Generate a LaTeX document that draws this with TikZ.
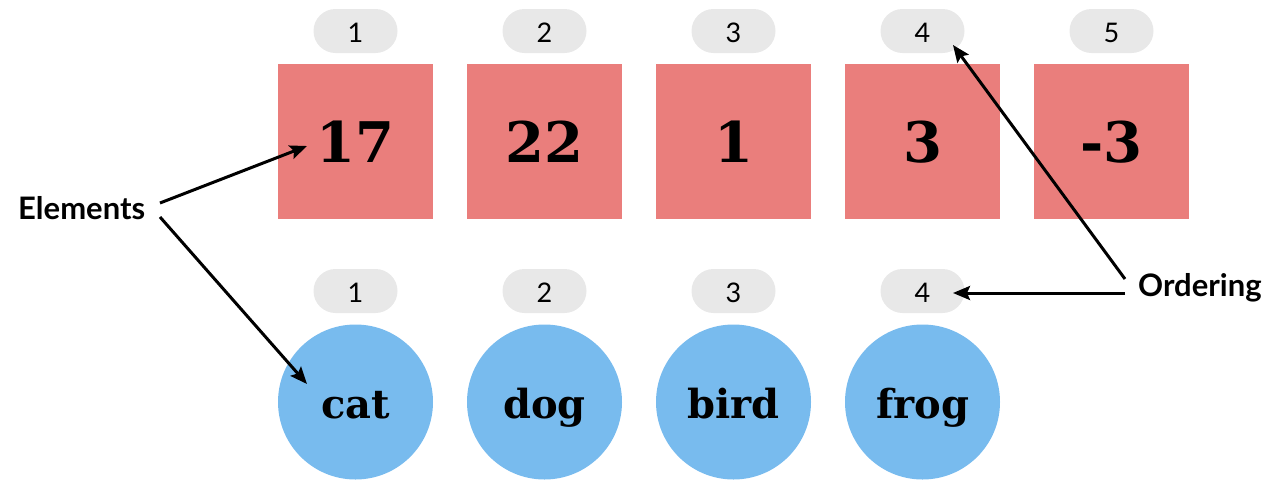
\documentclass[tikz,border=0pt]{standalone}
\usepackage{fontspec}
\setmainfont{DejaVu Serif}
\newfontfamily\labfont{Lato}
\usetikzlibrary{arrows.meta}
\definecolor{sqred}{HTML}{EA7E7C}
\definecolor{cirblue}{HTML}{78BBEE}
\definecolor{pillgray}{HTML}{E8E8E8}
\tikzset{
  sq/.style={fill=sqred, minimum width=155pt, minimum height=155pt, inner sep=0pt,
    font=\fontsize{56}{60}\selectfont\bfseries, text height=42pt, text depth=0pt},
  cir/.style={circle, fill=cirblue, minimum size=155pt, inner sep=0pt,
    font=\fontsize{40}{44}\selectfont\bfseries, text height=32pt, text depth=0pt},
  pill/.style={fill=pillgray, rounded corners=22pt, minimum width=84pt, minimum height=44pt,
    inner sep=0pt, font=\labfont\fontsize{27}{29}\selectfont, text height=22pt, text depth=0pt},
  lab/.style={font=\labfont\bfseries\fontsize{31}{34}\selectfont, inner sep=0pt, anchor=base west},
  arr/.style={-{Stealth[length=17pt,width=14pt,inset=3pt]}, line width=3pt, black}
}
\begin{document}
\begin{tikzpicture}[x=1pt,y=-1pt]
\useasboundingbox (0,0) rectangle (1267,480);
% squares
\node[sq] (s1) at (355.5,141.5) {17};
\node[sq] (s2) at (544.5,141.5) {22};
\node[sq] (s3) at (733.5,141.5) {1};
\node[sq] (s4) at (922.5,141.5) {3};
\node[sq] (s5) at (1111.5,141.5) {-3};
% top pills
\node[pill] (p1) at (355.5,31) {1};
\node[pill] (p2) at (544.5,31) {2};
\node[pill] (p3) at (733.5,31) {3};
\node[pill] (p4) at (922.5,31) {4};
\node[pill] (p5) at (1111.5,31) {5};
% circles
\node[cir] (c1) at (355.5,402) {cat};
\node[cir] (c2) at (544.5,402) {dog};
\node[cir] (c3) at (733.5,402) {bird};
\node[cir] (c4) at (922.5,402) {frog};
% bottom pills
\node[pill] (q1) at (355.5,291) {1};
\node[pill] (q2) at (544.5,291) {2};
\node[pill] (q3) at (733.5,291) {3};
\node[pill] (q4) at (922.5,291) {4};
% labels
\node[lab] (elem) at (18,219) {Elements};
\node[lab] (ord) at (1138,296) {Ordering};
% connector ends
\coordinate (e1) at (160,203);
\coordinate (e2) at (160,217);
\coordinate (t17) at (307,146);
\coordinate (tcat) at (307,384);
\coordinate (o1) at (1125,279);
\coordinate (o2) at (1125,293);
\coordinate (tp4) at (953,45);
\coordinate (tq4) at (953,293);
\draw[arr] (e1) -- (t17);
\draw[arr] (e2) -- (tcat);
\draw[arr] (o1) -- (tp4);
\draw[arr] (o2) -- (tq4);
\end{tikzpicture}
\end{document}
